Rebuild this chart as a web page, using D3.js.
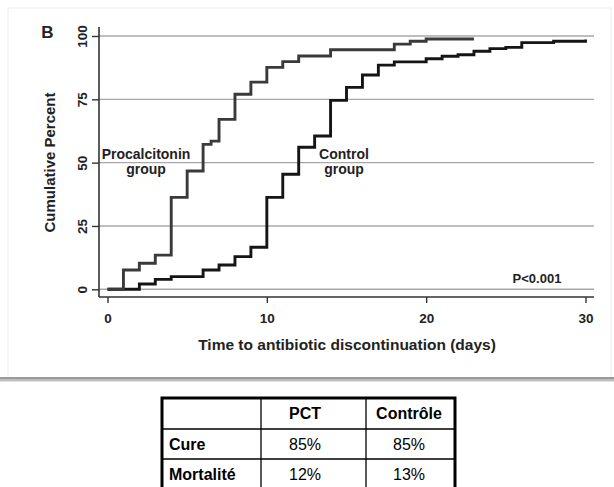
<!DOCTYPE html>
<html>
<head>
<meta charset="utf-8">
<script src="https://cdn.jsdelivr.net/npm/d3@7"></script>
<style>
  html, body { margin: 0; padding: 0; background: #fff; }
  svg { display: block; }
  text { font-family: "Liberation Sans", Arial, Helvetica, sans-serif; }
</style>
</head>
<body>
<svg id="chart" width="614" height="487"></svg>
<script>
// Cumulative percent of patients off antibiotics, by day
const pctTimes   = [0, 1, 2, 3, 4, 5, 6, 6.5, 7, 8, 9, 10, 11, 12, 14, 18, 19, 20, 23];
const pctValues  = [0, 7.6, 10.3, 13.5, 36.3, 46.7, 57.2, 58.5, 67.1, 77.0, 81.8, 87.6, 89.9, 92.1, 94.6, 96.8, 97.9, 98.8, 98.8];

const controlTimes  = [0, 2, 3, 4, 6, 7, 8, 9, 10, 11, 12, 13, 14, 15, 16, 17, 18, 20, 21, 22, 23, 24, 25, 26, 28, 30];
const controlValues = [0, 2.1, 3.9, 5.0, 7.6, 9.6, 12.9, 16.6, 36.3, 45.4, 56.1, 60.5, 74.6, 79.7, 84.6, 88.5, 89.8, 91.0, 92.0, 92.6, 94.0, 95.0, 95.5, 97.4, 97.9, 98.6];

const xTicks = [0, 10, 20, 30];
const yTicks = [0, 25, 50, 75, 100];

// Summary table
const tableHeader = ["", "PCT", "Contrôle"];
const tableRows   = ["Cure", "Mortalité"];
const pctOutcome     = ["85%", "12%"];
const controlOutcome = ["85%", "13%"];

const svg = d3.select("#chart");

// panel frame with a soft bottom edge
svg.append("rect").attr("x", 8).attr("y", 8).attr("width", 603).attr("height", 370)
  .attr("fill", "#fff").attr("stroke", "#ececec").attr("stroke-width", 1);
svg.append("rect").attr("x", 0).attr("y", 377).attr("width", 614).attr("height", 2).attr("fill", "#9a9a9a");
svg.append("rect").attr("x", 0).attr("y", 379).attr("width", 614).attr("height", 2).attr("fill", "#bdbdbd");
svg.append("rect").attr("x", 0).attr("y", 381).attr("width", 614).attr("height", 1).attr("fill", "#e2e2e2");

const x = d3.scaleLinear().domain([0, 30]).range([107.5, 585.5]);
const y = d3.scaleLinear().domain([0, 100]).range([289.3, 36]);

const axisX0 = 99, axisY0 = 297, plotRight = 594;

// horizontal grid
svg.append("g").selectAll("line").data(yTicks).join("line")
  .attr("x1", axisX0).attr("x2", plotRight)
  .attr("y1", d => y(d)).attr("y2", d => y(d))
  .attr("stroke", "#a8a8a8").attr("stroke-width", 1.4);

// y axis
const yAxis = svg.append("g").attr("transform", `translate(${axisX0},0)`)
  .call(d3.axisLeft(y).tickValues(yTicks).tickSize(7).tickSizeOuter(0));
yAxis.select(".domain").remove();
yAxis.selectAll(".tick line").attr("stroke", "#333").attr("stroke-width", 1.4);
yAxis.selectAll(".tick text")
  .attr("x", null).attr("dy", null)
  .attr("transform", "translate(-12,0) rotate(-90)")
  .attr("text-anchor", "middle")
  .attr("font-size", 13.5).attr("font-weight", "bold").attr("fill", "#222")
  .style("font-family", '"Liberation Sans", Arial, sans-serif');
svg.append("line").attr("x1", axisX0).attr("x2", axisX0).attr("y1", 27).attr("y2", axisY0)
  .attr("stroke", "#333").attr("stroke-width", 1.6);

// x axis
const xAxis = svg.append("g").attr("transform", `translate(0,${axisY0})`)
  .call(d3.axisBottom(x).tickValues(xTicks).tickSize(6).tickSizeOuter(0));
xAxis.select(".domain").remove();
xAxis.selectAll(".tick line").attr("stroke", "#333").attr("stroke-width", 1.4);
xAxis.selectAll(".tick text")
  .attr("y", 21).attr("dy", "0.35em")
  .attr("font-size", 13.5).attr("font-weight", "bold").attr("fill", "#222")
  .style("font-family", '"Liberation Sans", Arial, sans-serif');
svg.append("line").attr("x1", axisX0).attr("x2", plotRight).attr("y1", axisY0).attr("y2", axisY0)
  .attr("stroke", "#333").attr("stroke-width", 1.6);

// step curves
const step = d3.line().x(d => x(d[0])).y(d => y(d[1])).curve(d3.curveStepAfter);
svg.append("path").datum(d3.zip(controlTimes, controlValues))
  .attr("d", step).attr("fill", "none").attr("stroke", "#151515").attr("stroke-width", 2.9);
svg.append("path").datum(d3.zip(pctTimes, pctValues))
  .attr("d", step).attr("fill", "none").attr("stroke", "#3a3a3a").attr("stroke-width", 2.9);

// titles and annotations
svg.append("text").attr("x", 47.5).attr("y", 38).attr("text-anchor", "middle")
  .attr("font-size", 17).attr("font-weight", "bold").attr("fill", "#222").text("B");
svg.append("text").attr("transform", "translate(55,162.5) rotate(-90)").attr("text-anchor", "middle")
  .attr("font-size", 15).attr("font-weight", "bold").attr("fill", "#222").text("Cumulative Percent");
svg.append("text").attr("x", 347).attr("y", 350).attr("text-anchor", "middle")
  .attr("font-size", 15.5).attr("font-weight", "bold").attr("fill", "#222")
  .text("Time to antibiotic discontinuation (days)");

const notes = [
  { t: "Procalcitonin", cx: 146, by: 159, fs: 14 },
  { t: "group", cx: 146, by: 174, fs: 14 },
  { t: "Control", cx: 344, by: 159, fs: 14 },
  { t: "group", cx: 344, by: 174, fs: 14 },
  { t: "P<0.001", cx: 537, by: 283, fs: 13 }
];
svg.append("g").selectAll("text").data(notes).join("text")
  .attr("x", d => d.cx).attr("y", d => d.by).attr("text-anchor", "middle")
  .attr("font-size", d => d.fs).attr("font-weight", "bold").attr("fill", "#222").text(d => d.t);

// summary table
const colEdges = [162, 261, 366, 455];
const rowEdges = [398, 429, 459, 490];
const textCenters = [null, 305, 409];
const tbl = svg.append("g");
colEdges.slice(1, -1).forEach(cx => tbl.append("line")
  .attr("x1", cx).attr("x2", cx).attr("y1", rowEdges[0]).attr("y2", rowEdges[3])
  .attr("stroke", "#000").attr("stroke-width", 1.3));
rowEdges.slice(1, -1).forEach(ry => tbl.append("line")
  .attr("x1", colEdges[0]).attr("x2", colEdges[3]).attr("y1", ry).attr("y2", ry)
  .attr("stroke", "#000").attr("stroke-width", 1.3));
tbl.append("rect").attr("x", colEdges[0]).attr("y", rowEdges[0])
  .attr("width", colEdges[3] - colEdges[0]).attr("height", rowEdges[3] - rowEdges[0])
  .attr("fill", "none").attr("stroke", "#000").attr("stroke-width", 3);

const rowBase = i => rowEdges[i] + 21;
tableHeader.forEach((h, i) => {
  if (!h) return;
  tbl.append("text")
    .attr("x", textCenters[i]).attr("y", rowBase(0)).attr("text-anchor", "middle")
    .attr("font-size", 16).attr("font-weight", "bold").attr("fill", "#000").text(h);
});
tableRows.forEach((r, i) => {
  tbl.append("text").attr("x", colEdges[0] + 7).attr("y", rowBase(i + 1))
    .attr("font-size", 16).attr("font-weight", "bold").attr("fill", "#000").text(r);
  tbl.append("text").attr("x", textCenters[1]).attr("y", rowBase(i + 1)).attr("text-anchor", "middle")
    .attr("font-size", 16).attr("fill", "#000").text(pctOutcome[i]);
  tbl.append("text").attr("x", textCenters[2]).attr("y", rowBase(i + 1)).attr("text-anchor", "middle")
    .attr("font-size", 16).attr("fill", "#000").text(controlOutcome[i]);
});
</script>
</body>
</html>
